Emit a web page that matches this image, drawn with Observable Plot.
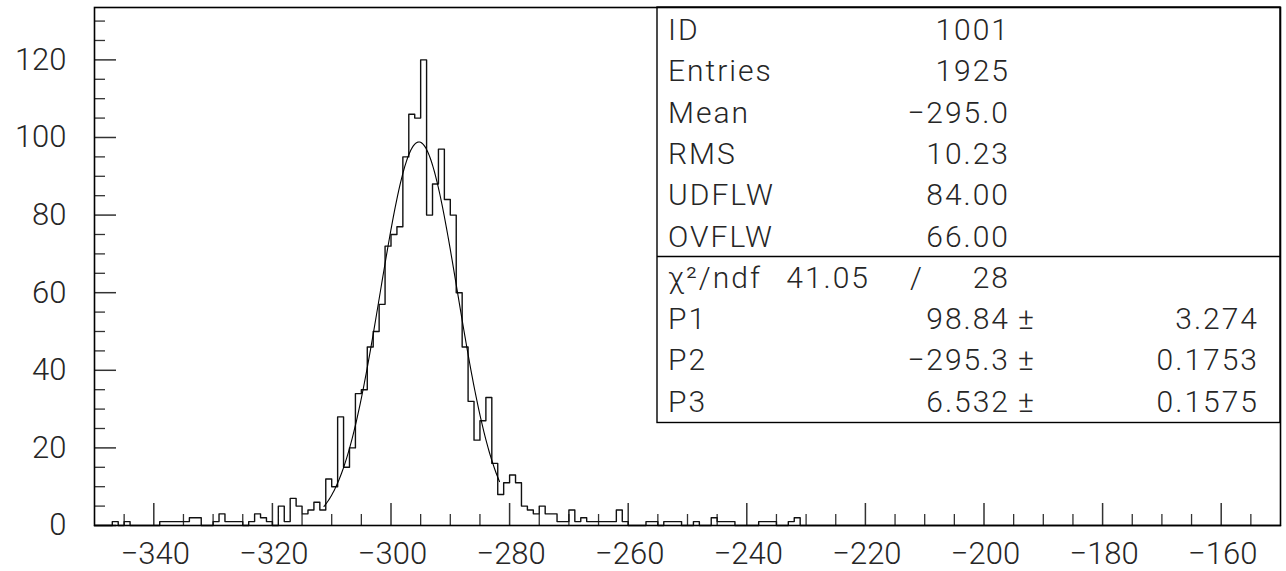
<!DOCTYPE html>
<html>
<head>
<meta charset="utf-8">
<script src="https://cdn.jsdelivr.net/npm/d3@7"></script>
<script src="https://cdn.jsdelivr.net/npm/@observablehq/plot@0.6"></script>
<style>
  html, body { margin: 0; padding: 0; background: #fff; }
  #chart svg { display: block; }
</style>
</head>
<body>
<div id="chart"></div>
<script>
// ---- Histogram data (1-unit bins starting at -350) ----
const binStart = -350;
const binWidth = 1;
const counts = [
  // -350 .. -341
  0, 0, 0, 1, 0, 1, 0, 0, 0, 0,
  // -340 .. -331
  0, 1, 1, 1, 1, 1, 2, 2, 0, 0,
  // -330 .. -321
  1, 3, 1, 1, 1, 0, 1, 3, 2, 1,
  // -320 .. -311
  0, 5, 1, 7, 5, 3, 4, 6, 4, 12,
  // -310 .. -301
  10, 28, 15, 20, 34, 35, 46, 50, 57, 72,
  // -300 .. -291
  75, 77, 95, 106, 105, 120, 80, 88, 97, 84,
  // -290 .. -281
  80, 60, 46, 32, 22, 27, 33, 16, 8, 11,
  // -280 .. -271
  13, 11, 5, 4, 3, 5, 3, 3, 1, 1,
  // -270 .. -261
  4, 1, 2, 1, 1, 1, 1, 1, 4, 1,
  // -260 .. -251
  0, 0, 0, 1, 1, 0, 1, 1, 1, 0,
  // -250 .. -241
  0, 1, 0, 0, 2, 1, 1, 1, 0, 0,
  // -240 .. -231
  0, 0, 1, 1, 1, 0, 0, 1, 2, 0,
  // -230 .. -151
  0, 0, 0, 0, 0, 0, 0, 0, 0, 0,
  0, 0, 0, 0, 0, 0, 0, 0, 0, 0,
  0, 0, 0, 0, 0, 0, 0, 0, 0, 0,
  0, 0, 0, 0, 0, 0, 0, 0, 0, 0,
  0, 0, 0, 0, 0, 0, 0, 0, 0, 0,
  0, 0, 0, 0, 0, 0, 0, 0, 0, 0,
  0, 0, 0, 0, 0, 0, 0, 0, 0, 0,
  0, 0, 0, 0, 0, 0, 0, 0, 0, 0
];

// ---- Gaussian fit (parameters as printed in the stats box) ----
const fitParams = [98.84, -295.3, 6.532];   // P1 (height), P2 (mean), P3 (sigma)
const fitRange = [-311.3, -281.7];

// ---- Axes ----
const xDomain = [-350, -150];
const yDomain = [0, 133.5];
const xMajorTicks = [-340, -320, -300, -280, -260, -240, -220, -200, -180, -160];
const xMinorTicks = d3.range(-345, -150, 5).filter(v => !xMajorTicks.includes(v));
const yMajorTicks = [0, 20, 40, 60, 80, 100, 120];
const yMinorTicks = d3.range(5, 133, 5).filter(v => !yMajorTicks.includes(v));

// ---- Stats box text ----
const statLabels = ["ID", "Entries", "Mean", "RMS", "UDFLW", "OVFLW"];
const statValues = ["1001", "1925", "\u2212295.0", "10.23", "84.00", "66.00"];
const chi2Label = "\u03c7\u00b2/ndf";
const chi2Values = ["41.05", "28"];
const parLabels = ["P1", "P2", "P3"];
const parValues = ["98.84", "\u2212295.3", "6.532"];
const parErrors = ["3.274", "0.1753", "0.1575"];

// ---- Layout ----
const W = 1286, H = 571;
const mL = 94, mR = 6, mT = 7, mB = 46;
const innerW = W - mL - mR, innerH = H - mT - mB;
const FONT = "Roboto, 'DejaVu Sans', sans-serif";
const WEIGHT = 300;
const TXT = "#262626";

const fmt = d => d < 0 ? "\u2212" + Math.abs(d) : String(d);

// step outline data: left edge of each bin, plus closing right edge
const histData = counts.map((c, i) => ({x: binStart + i * binWidth, y: c}));
histData.push({x: binStart + counts.length * binWidth, y: counts[counts.length - 1]});

// fit curve evaluated from the printed fit parameters
const [P1, P2, P3] = fitParams;
const fitCurve = d3.range(0, 201).map(k => {
  const x = fitRange[0] + (fitRange[1] - fitRange[0]) * k / 200;
  return {x, y: P1 * Math.exp(-0.5 * ((x - P2) / P3) ** 2)};
});

function statsBox() {
  const LS = 2;
  const g = d3.create("svg:g")
    .attr("font-family", FONT)
    .attr("font-weight", WEIGHT)
    .attr("font-size", 30)
    .attr("letter-spacing", LS)
    .attr("text-anchor", "start")
    .attr("fill", TXT);
  const left = 657, right = W - mR, top = mT, bottom = 422.5, divider = 256.5;
  g.append("rect")
    .attr("x", left).attr("y", top)
    .attr("width", right - left).attr("height", bottom - top)
    .attr("fill", "#fff").attr("stroke", "#000").attr("stroke-width", 1.4);
  g.append("line")
    .attr("x1", left).attr("x2", right).attr("y1", divider).attr("y2", divider)
    .attr("stroke", "#000").attr("stroke-width", 1.4);
  const labX = 668, valX = 1008 + LS, pmX = 1018, errX = 1257 + LS;
  const base0 = 40, step = 41.3;
  const txt = (x, y, s, anchor) =>
    g.append("text").attr("x", x).attr("y", y).attr("text-anchor", anchor || "start").text(s);
  statLabels.forEach((s, i) => {
    txt(labX, base0 + i * step, s);
    txt(valX, base0 + i * step, statValues[i], "end");
  });
  const yc = base0 + 6 * step;
  txt(labX, yc, chi2Label);
  txt(868 + LS, yc, chi2Values[0], "end");
  txt(917, yc, "/", "middle");
  txt(valX, yc, chi2Values[1], "end");
  parLabels.forEach((s, i) => {
    const y = base0 + (7 + i) * step;
    txt(labX, y, s);
    txt(valX, y, parValues[i], "end");
    txt(pmX, y, "\u00b1");
    txt(errX, y, parErrors[i], "end");
  });
  return g.node();
}

const chart = Plot.plot({
  width: W,
  height: H,
  marginLeft: mL, marginRight: mR, marginTop: mT, marginBottom: mB,
  style: {background: "#fff", color: TXT, fontFamily: FONT, overflow: "visible"},
  x: {domain: xDomain, axis: null},
  y: {domain: yDomain, axis: null},
  marks: [
    Plot.tickX(xMinorTicks, {x: d => d, insetTop: innerH - 11, stroke: "#333", strokeWidth: 1.3}),
    Plot.tickX(xMajorTicks, {x: d => d, insetTop: innerH - 22, stroke: "#333", strokeWidth: 1.5}),
    Plot.tickY(yMinorTicks, {y: d => d, insetRight: innerW - 11, stroke: "#333", strokeWidth: 1.3}),
    Plot.tickY(yMajorTicks, {y: d => d, insetRight: innerW - 22, stroke: "#333", strokeWidth: 1.5}),
    Plot.line(histData, {x: "x", y: "y", curve: "step-after", stroke: "#111", strokeWidth: 1.4}),
    Plot.line(fitCurve, {x: "x", y: "y", curve: "linear", stroke: "#000", strokeWidth: 1.1}),
    statsBox,
    Plot.frame({stroke: "#000", strokeWidth: 1.6}),
    Plot.text(xMajorTicks, {x: d => d, text: fmt, frameAnchor: "bottom", lineAnchor: "top",
      dy: 16, dx: 1.5, fontSize: 31, fontWeight: WEIGHT, fill: TXT, fontFamily: FONT, letterSpacing: 3}),
    Plot.text(yMajorTicks, {y: d => d, text: fmt, frameAnchor: "left", textAnchor: "end",
      dx: -28, fontSize: 31, fontWeight: WEIGHT, fill: TXT, fontFamily: FONT, letterSpacing: 3})
  ]
});
document.getElementById("chart").appendChild(chart);
</script>
</body>
</html>
